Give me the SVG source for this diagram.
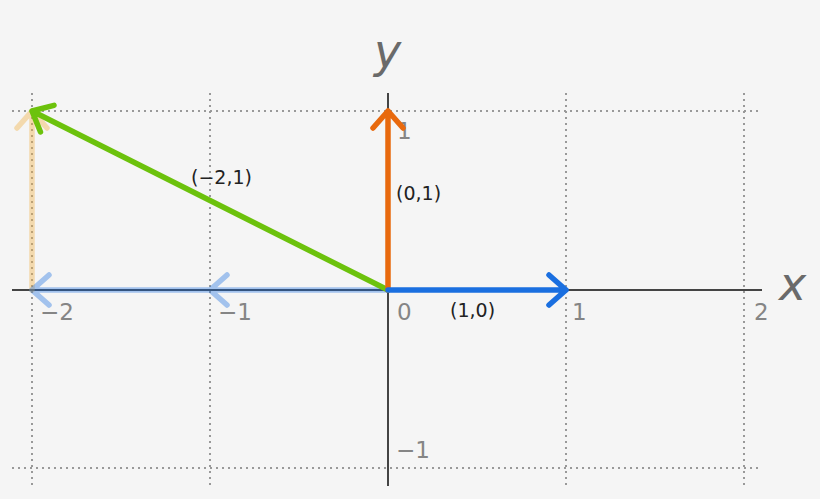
<svg xmlns="http://www.w3.org/2000/svg" width="820" height="499" viewBox="0 0 820 499">
<style>
.grid{stroke:#999;stroke-width:2;stroke-dasharray:2 4;fill:none}
.axis{stroke:#444;stroke-width:2;fill:none}
.tick{font-family:"DejaVu Sans",sans-serif;font-size:23px;fill:#858585}
.ax{font-family:"DejaVu Sans",sans-serif;font-style:italic;font-size:46px;fill:#6a6a6a}
.lbl{font-family:"DejaVu Sans",sans-serif;font-size:19px;fill:#222}
.vec{fill:none;stroke-width:5.5;stroke-linecap:round;stroke-linejoin:round}
</style>
<rect width="820" height="499" fill="#f5f5f5"/>
<g id="grid">
<path class="grid" d="M32 93V487M210 93V487M566 93V487M744 93V487M12 111H762M12 468H762"/>
</g>
<g id="axes">
<path class="axis" d="M12 290H762M388 93V486"/>
<text class="tick" x="40" y="320">−2</text>
<text class="tick" x="218" y="320">−1</text>
<text class="tick" x="397" y="320">0</text>
<text class="tick" x="572" y="320">1</text>
<text class="tick" x="754" y="320">2</text>
<text class="tick" x="397" y="139">1</text>
<text class="tick" x="396" y="458">−1</text>
<text class="ax" x="779" y="300">x</text>
<text class="ax" x="374" y="67">y</text>
</g>
<g id="connectors">
<g id="faded-orange" opacity="0.4">
<path class="vec" stroke="#f0b040" d="M32 290V111M17 128L32 111L47 128"/>
</g>
<g id="faded-blue" opacity="0.38">
<path class="vec" stroke="#1a6fe0" d="M388 290H32M49 275L32 290L49 305M227 275L210 290L227 305"/>
</g>
<g id="vec-green">
<path class="vec" stroke="#6cc20c" d="M388 290L32 111M40.5 132L32 111L54 105.3"/>
</g>
<g id="vec-orange">
<path class="vec" stroke="#e8690d" d="M388 290V111M373 128L388 111L403 128"/>
</g>
<g id="vec-blue">
<path class="vec" stroke="#1a6fe0" d="M388 290H566M549 275L566 290L549 305"/>
</g>
</g>
<g id="labels">
<text class="lbl" x="191" y="184">(−2,1)</text>
<text class="lbl" x="396" y="200">(0,1)</text>
<text class="lbl" x="450" y="317">(1,0)</text>
</g>
</svg>
